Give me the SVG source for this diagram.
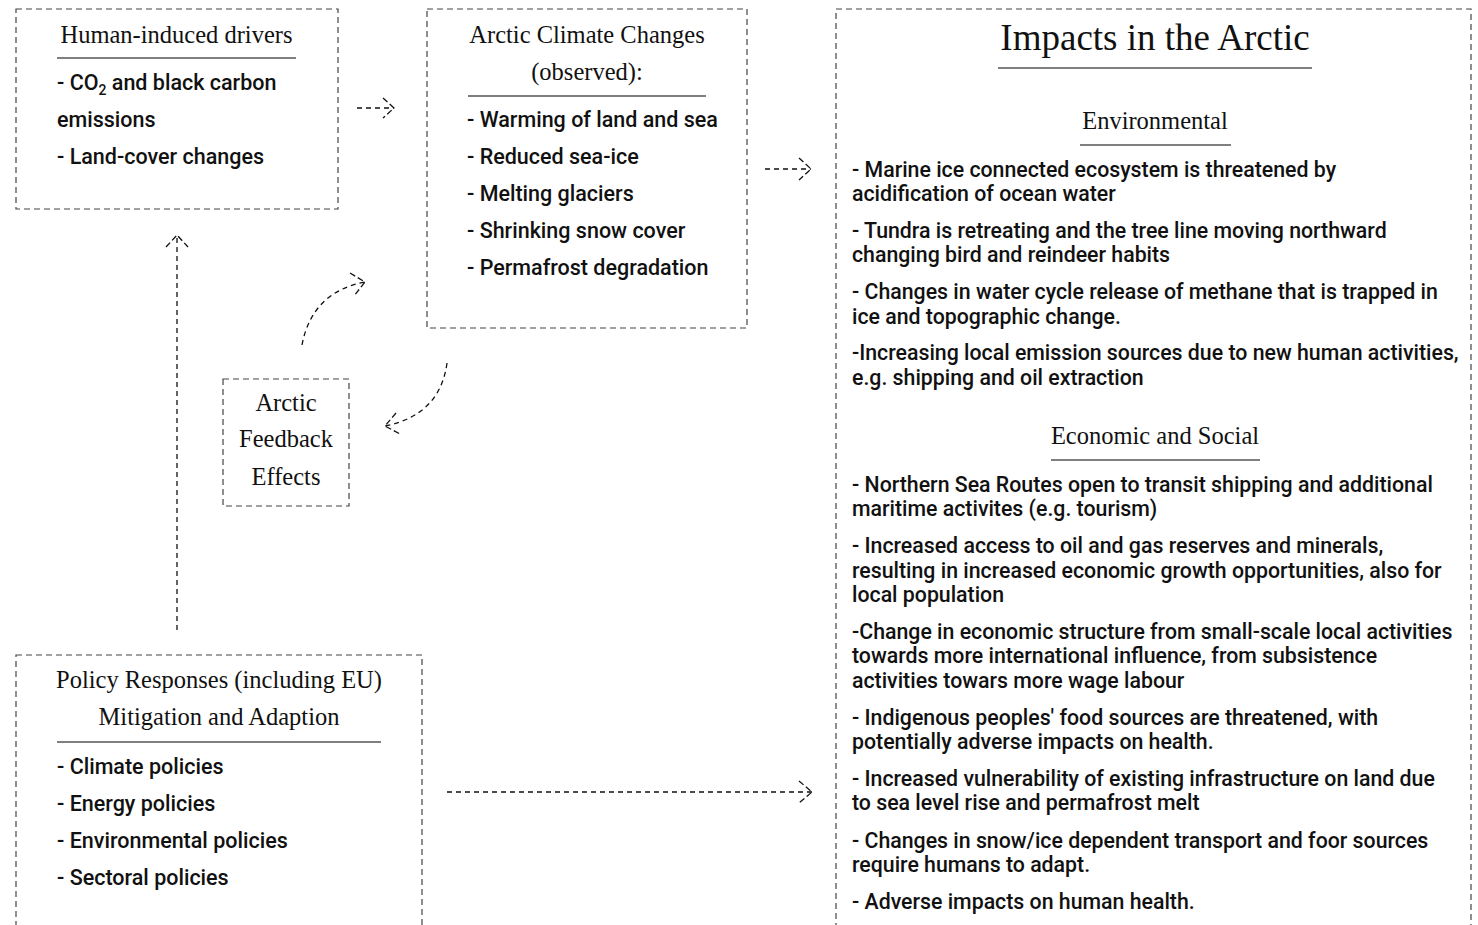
<svg xmlns="http://www.w3.org/2000/svg" width="1478" height="925" viewBox="0 0 1478 925">
<style>
.box{fill:none;stroke:#444;stroke-width:1.2;stroke-dasharray:6 4}
.rule{stroke:#555;stroke-width:1.3}
.ser{font-family:"Liberation Serif","Times New Roman",serif;font-size:24.5px;fill:#111;text-anchor:middle}
.big{font-size:37px}
.san{font-family:Roboto,"Liberation Sans",Arial,sans-serif;font-size:21.5px;font-weight:500;fill:#111}
.sm{font-size:21.3px}
.conn{fill:none;stroke:#111;stroke-width:1.3;stroke-dasharray:5 4}
.head{fill:none;stroke:#111;stroke-width:1.3;stroke-dasharray:6 3}
</style>
<rect width="1478" height="925" fill="#fff"/>
<g id="drivers">
<rect class="box" x="16" y="9" width="322" height="200"/>
<text class="ser" x="176.5" y="43">Human-induced drivers</text>
<line class="rule" x1="57" y1="58" x2="296" y2="58"/>
<text class="san" x="57" y="90">- CO<tspan font-size="14" dy="5">2</tspan><tspan dy="-5"> and black carbon</tspan></text>
<text class="san" x="57" y="127">emissions</text>
<text class="san" x="57" y="164">- Land-cover changes</text>
</g>
<g id="climate">
<rect class="box" x="427" y="9" width="320" height="319"/>
<text class="ser" x="587" y="43">Arctic Climate Changes</text>
<text class="ser" x="587" y="80">(observed):</text>
<line class="rule" x1="468" y1="96" x2="706" y2="96"/>
<text class="san" x="467" y="127">- Warming of land and sea</text>
<text class="san" x="467" y="164">- Reduced sea-ice</text>
<text class="san" x="467" y="201">- Melting glaciers</text>
<text class="san" x="467" y="238">- Shrinking snow cover</text>
<text class="san" x="467" y="275">- Permafrost degradation</text>
</g>
<g id="feedback">
<rect class="box" x="223" y="379" width="126" height="127"/>
<text class="ser" x="286" y="411">Arctic</text>
<text class="ser" x="286" y="447">Feedback</text>
<text class="ser" x="286" y="485">Effects</text>
</g>
<g id="policy">
<rect class="box" x="16" y="655" width="406" height="290"/>
<text class="ser" x="219" y="688">Policy Responses (including EU)</text>
<text class="ser" x="219" y="725">Mitigation and Adaption</text>
<line class="rule" x1="57" y1="742" x2="381" y2="742"/>
<text class="san" x="57" y="774">- Climate policies</text>
<text class="san" x="57" y="811">- Energy policies</text>
<text class="san" x="57" y="848">- Environmental policies</text>
<text class="san" x="57" y="885">- Sectoral policies</text>
</g>
<g id="impacts">
<rect class="box" x="836" y="9" width="635" height="940"/>
<text class="ser big" x="1155" y="50">Impacts in the Arctic</text>
<line class="rule" x1="998" y1="68" x2="1312" y2="68"/>
<text class="ser" x="1155" y="129">Environmental</text>
<line class="rule" x1="1080" y1="145" x2="1231" y2="145"/>
<g class="san sm">
<text x="852" y="177">- Marine ice connected ecosystem is threatened by</text>
<text x="852" y="201">acidification of ocean water</text>
<text x="852" y="238">- Tundra is retreating and the tree line moving northward</text>
<text x="852" y="262">changing bird and reindeer habits</text>
<text x="852" y="299">- Changes in water cycle release of methane that is trapped in</text>
<text x="852" y="324">ice and topographic change.</text>
<text x="852" y="360">-Increasing local emission sources due to new human activities,</text>
<text x="852" y="385">e.g. shipping and oil extraction</text>
</g>
<text class="ser" x="1155" y="444">Economic and Social</text>
<line class="rule" x1="1051" y1="460" x2="1260" y2="460"/>
<g class="san sm">
<text x="852" y="492">- Northern Sea Routes open to transit shipping and additional</text>
<text x="852" y="516">maritime activites (e.g. tourism)</text>
<text x="852" y="553">- Increased access to oil and gas reserves and minerals,</text>
<text x="852" y="578">resulting in increased economic growth opportunities, also for</text>
<text x="852" y="602">local population</text>
<text x="852" y="639">-Change in economic structure from small-scale local activities</text>
<text x="852" y="663">towards more international influence, from subsistence</text>
<text x="852" y="688">activities towars more wage labour</text>
<text x="852" y="725">- Indigenous peoples' food sources are threatened, with</text>
<text x="852" y="749">potentially adverse impacts on health.</text>
<text x="852" y="786">- Increased vulnerability of existing infrastructure on land due</text>
<text x="852" y="810">to sea level rise and permafrost melt</text>
<text x="852" y="848">- Changes in snow/ice dependent transport and foor sources</text>
<text x="852" y="872">require humans to adapt.</text>
<text x="852" y="909">- Adverse impacts on human health.</text>
</g>
</g>
<g id="connectors">
<path class="conn" d="M357,108 H394"/>
<path class="head" d="M383,98 L394,108 L383,118"/>
<path class="conn" d="M765,169 H811"/>
<path class="head" d="M799,158 L811,169 L799,180"/>
<path class="conn" d="M177,630 V235"/>
<path class="head" d="M166,247 L177,235 L188,247"/>
<path class="conn" d="M447,792 H812"/>
<path class="head" d="M799,781 L812,792 L799,803"/>
<path class="conn" d="M302,345 Q312,292 365,282"/>
<path class="head" d="M350,273 L365,282 L354,296"/>
<path class="conn" d="M447,363 Q440,415 385,426"/>
<path class="head" d="M396,413 L385,426 L400,434"/>
</g>
</svg>
